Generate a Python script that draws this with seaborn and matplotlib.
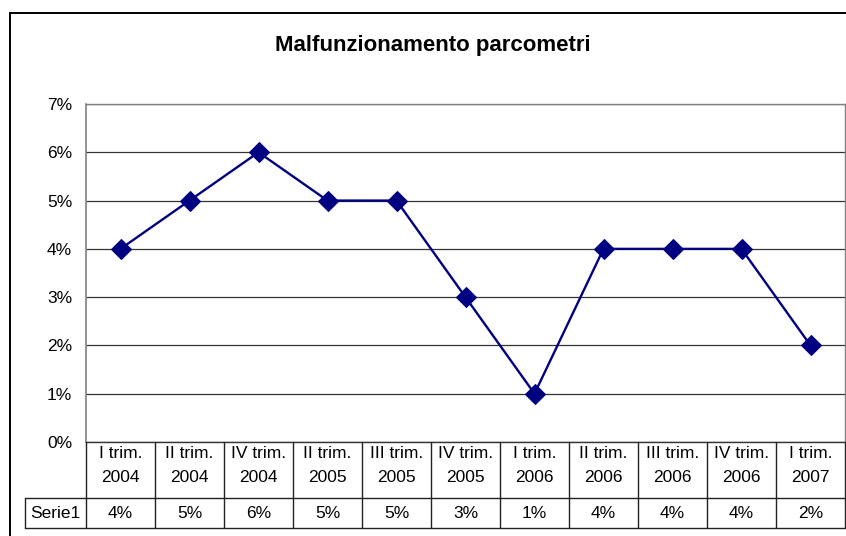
"""
Malfunzionamento parcometri — line chart in Excel style with a data table below.
Output: out.png (846x536)
"""
import numpy as np
import pandas as pd
import matplotlib
matplotlib.use("Agg")
import matplotlib.pyplot as plt
from matplotlib.patches import Rectangle
from matplotlib.ticker import PercentFormatter
import seaborn as sns

TITOLO = "Malfunzionamento parcometri"
TRIMESTRI = ["I trim.", "II trim.", "IV trim.", "II trim.", "III trim.", "IV trim.",
             "I trim.", "II trim.", "III trim.", "IV trim.", "I trim."]
ANNI = ["2004", "2004", "2004", "2005", "2005", "2005",
        "2006", "2006", "2006", "2006", "2007"]
SERIE_NOME = "Serie1"
SERIE1 = [0.04, 0.05, 0.06, 0.05, 0.05, 0.03, 0.01, 0.04, 0.04, 0.04, 0.02]
Y_TICKS = [0.0, 0.01, 0.02, 0.03, 0.04, 0.05, 0.06, 0.07]

W, H = 846, 536
BLU = "#000080"
FONT = ["Liberation Sans", "DejaVu Sans"]

sns.set_style("white")
plt.rcParams["font.family"] = FONT
plt.rcParams["text.color"] = "black"
plt.rcParams["ytick.color"] = "black"
plt.rcParams["xtick.color"] = "black"

df = pd.DataFrame({"pos": np.arange(len(SERIE1)), "valore": SERIE1})

fig = plt.figure(figsize=(W / 100, H / 100), dpi=100)

# bordo esterno del grafico
fig.patches.append(Rectangle((10 / W, -0.05), 1.2, 1.05 - 13 / H, transform=fig.transFigure,
                             fill=False, edgecolor="#000000", linewidth=1.4))

# area del tracciato
x0, x1 = 86 / W, 845 / W
y0, y1 = 1 - 442 / H, 1 - 104 / H
ax = fig.add_axes([x0, y0, x1 - x0, y1 - y0])
sns.lineplot(data=df, x="pos", y="valore", ax=ax, color=BLU, linewidth=1.7,
             marker="D", markersize=10, markeredgecolor=BLU, markerfacecolor=BLU,
             zorder=5, clip_on=False)
ax.set_xlim(-0.5, len(SERIE1) - 0.5)
ax.set_ylim(0, 0.07)
ax.set_yticks(Y_TICKS)
ax.yaxis.set_major_formatter(PercentFormatter(xmax=1, decimals=0))
ax.set_xticks([])
ax.set_xlabel("")
ax.set_ylabel("")
ax.grid(axis="y", color="#333333", linewidth=0.9)
ax.set_axisbelow(True)
for lato in ["top", "right"]:
    ax.spines[lato].set_color("#808080")
    ax.spines[lato].set_linewidth(1.0)
ax.spines["left"].set_color("#808080")
ax.spines["left"].set_linewidth(1.2)
ax.spines["bottom"].set_color("#333333")
ax.spines["bottom"].set_linewidth(1.0)
ax.tick_params(axis="y", direction="out", length=5, width=0.9, color="#333333",
               labelcolor="black", labelsize=12.5, pad=5)

fig.text(433 / W, 1 - 46 / H, TITOLO, ha="center", va="center", color="black",
         fontsize=16, fontweight="bold", family=FONT)

# tabella dati sotto il grafico
n = len(SERIE1)
passo = (845 - 86) / n
tx0 = 25 / W
sinistra = -0.5 - (86 - 25) / passo
tb = fig.add_axes([tx0, 1 - 528 / H, x1 - tx0, (528 - 442) / H])
tb.set_xlim(sinistra, n - 0.5)
tb.set_ylim(0, 86)
tb.axis("off")
linea = dict(color="#222222", linewidth=1.0, clip_on=False)
tb.plot([sinistra, n - 0.5], [0, 0], **linea)
tb.plot([sinistra, n - 0.5], [30, 30], **linea)
tb.plot([sinistra, sinistra], [0, 30], **linea)
for k in range(n + 1):
    tb.plot([k - 0.5, k - 0.5], [0, 86], **linea)
testo = dict(ha="center", va="center", fontsize=12.5, color="black")
tb.text((sinistra - 0.5) / 2, 15, SERIE_NOME, **testo)
for i, (t, a, v) in enumerate(zip(TRIMESTRI, ANNI, SERIE1)):
    tb.text(i, 75, t, **testo)
    tb.text(i, 50, a, **testo)
    tb.text(i, 15, f"{v * 100:.0f}%", **testo)

fig.savefig("out.png", dpi=100)
plt.close(fig)
